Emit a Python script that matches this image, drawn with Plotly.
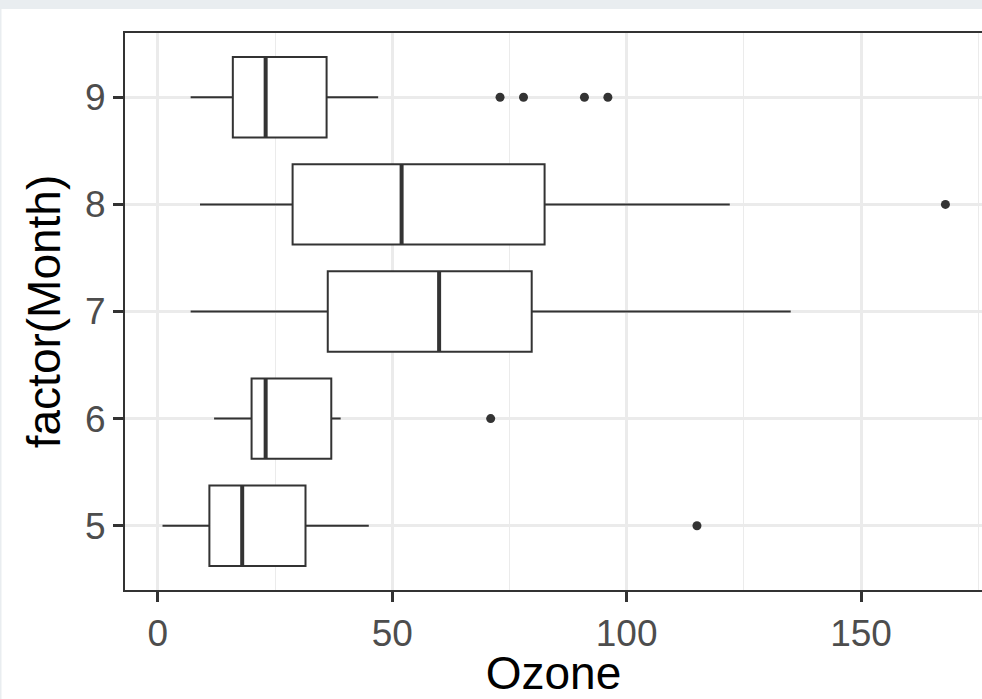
import numpy as np
import plotly.graph_objects as go

# airquality Ozone readings by month (NA removed)
months = [5, 6, 7, 8, 9]
ozone_may = [41, 36, 12, 18, 28, 23, 19, 8, 7, 16, 11, 14, 18, 14, 34, 6, 30, 11, 1, 11, 4, 32, 23, 45, 115, 37]
ozone_jun = [29, 71, 39, 23, 21, 37, 20, 12, 13]
ozone_jul = [135, 49, 32, 64, 40, 77, 97, 97, 85, 10, 27, 7, 48, 35, 61, 79, 63, 16, 80, 108, 20, 52, 82, 50, 64, 59]
ozone_aug = [39, 9, 16, 78, 35, 66, 122, 89, 110, 44, 28, 65, 22, 59, 23, 31, 44, 21, 9, 45, 168, 73, 76, 118, 84, 85]
ozone_sep = [96, 78, 73, 91, 47, 32, 20, 23, 21, 24, 44, 21, 28, 9, 13, 46, 18, 13, 24, 16, 13, 23, 36, 7, 14, 30, 14, 18, 20]
groups = [ozone_may, ozone_jun, ozone_jul, ozone_aug, ozone_sep]
x_ticks = [0, 50, 100, 150]

BOX_W = 0.75
fig = go.Figure()
for m, vals in zip(months, groups):
    v = np.array(vals, dtype=float)
    q1, med, q3 = np.quantile(v, [0.25, 0.5, 0.75])
    iqr = q3 - q1
    lo_f, hi_f = q1 - 1.5 * iqr, q3 + 1.5 * iqr
    inside = v[(v >= lo_f) & (v <= hi_f)]
    outl = v[(v < lo_f) | (v > hi_f)]
    fig.add_trace(go.Box(
        y=[m], q1=[q1], median=[med], q3=[q3],
        lowerfence=[inside.min()], upperfence=[inside.max()],
        orientation="h", width=BOX_W, whiskerwidth=0,
        fillcolor="white", line=dict(color="#333333", width=2),
        boxpoints=False, showlegend=False, hoverinfo="skip",
    ))
    # thicker median line
    fig.add_trace(go.Scatter(
        x=[med, med], y=[m - BOX_W / 2, m + BOX_W / 2], mode="lines",
        line=dict(color="#333333", width=4), showlegend=False, hoverinfo="skip",
    ))
    if len(outl):
        fig.add_trace(go.Scatter(
            x=outl, y=[m] * len(outl), mode="markers",
            marker=dict(color="#333333", size=9), showlegend=False, hoverinfo="skip",
        ))

W, H = 982, 699
ML, MT, MB, MR = 125, 33, 109, 0
pw, ph = W - ML - MR, H - MT - MB

fig.update_layout(
    width=W, height=H,
    margin=dict(l=ML, r=MR, t=MT, b=MB, pad=0),
    paper_bgcolor="white", plot_bgcolor="white",
    font=dict(family="Liberation Sans, Arial, sans-serif"),
    xaxis=dict(
        range=[-7.0, 175.8], tickvals=x_ticks, ticktext=[str(t) for t in x_ticks],
        showgrid=True, gridcolor="#ebebeb", gridwidth=2.5, zeroline=False,
        minor=dict(dtick=25, tick0=25, showgrid=True, gridcolor="#ebebeb", gridwidth=1.2, ticks=""),
        ticks="outside", ticklen=10, tickwidth=2.5, tickcolor="#333333",
        tickfont=dict(size=37, color="#4d4d4d"),
        showline=True, linecolor="#333333", linewidth=2, mirror=True,
        automargin=False,
        title=dict(text="Ozone", font=dict(size=46, color="black"), standoff=15),
    ),
    yaxis=dict(
        range=[4.4, 9.6], tickvals=months, ticktext=[str(m) for m in months],
        showgrid=True, gridcolor="#ebebeb", gridwidth=2.5, zeroline=False,
        ticks="outside", ticklen=10, tickwidth=2.5, tickcolor="#333333",
        tickfont=dict(size=37, color="#4d4d4d"),
        showline=True, linecolor="#333333", linewidth=2, mirror=False,
        automargin=False,
        title=dict(text="factor(Month)", font=dict(size=46, color="black"), standoff=10),
    ),
    shapes=[
        dict(type="rect", xref="paper", yref="paper",
             x0=-ML / pw, x1=1.0, y0=1 + (MT - 9) / ph, y1=1 + MT / ph,
             fillcolor="#e9edf0", line=dict(width=0), layer="above"),
        dict(type="rect", xref="paper", yref="paper",
             x0=-ML / pw, x1=-(ML - 1.5) / pw, y0=-MB / ph, y1=1 + MT / ph,
             fillcolor="#e9edf0", line=dict(width=0), layer="above"),
    ],
)

fig.write_html(
    "out.html",
    config={"displayModeBar": False},
    post_script="document.body.style.margin='0';document.body.style.overflow='hidden';",
)
